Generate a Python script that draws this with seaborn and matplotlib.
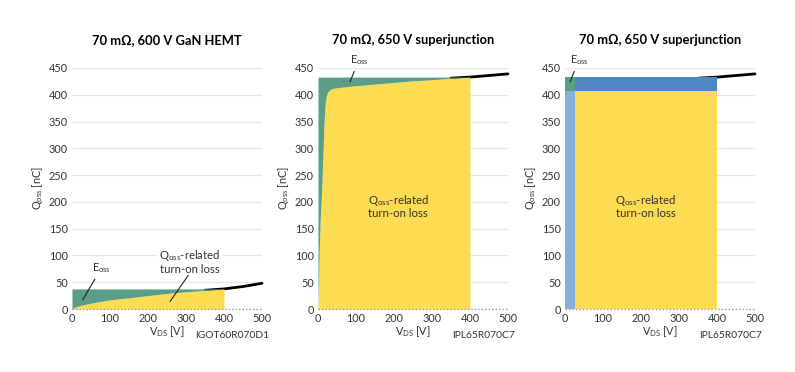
import numpy as np
import pandas as pd
import seaborn as sns
import matplotlib.pyplot as plt

# Qoss curves
v_gan = [0, 10, 25, 50, 100, 150, 200, 250, 300, 350, 400, 450, 500]
q_gan = [0, 4, 7, 11, 17, 21, 25, 29, 32, 35, 37.5, 42, 48]

v_sj = [0, 3, 6, 10, 13, 16, 19, 22, 26, 32, 40, 60, 100, 150, 200, 250, 300, 350, 400, 450, 500]
q_sj = [0, 105, 170, 228, 290, 350, 385, 398, 406, 410, 412, 414, 417, 420, 423, 426, 428, 431, 433, 436, 439]

# simplified model for the third panel
v_knee = 26
q_knee = 407
v_bus = 400

titles = ["70 m\u03a9, 600 V GaN HEMT", "70 m\u03a9, 650 V superjunction", "70 m\u03a9, 650 V superjunction"]
parts = ["IGOT60R070D1", "IPL65R070C7", "IPL65R070C7"]
y_ticks = [0, 50, 100, 150, 200, 250, 300, 350, 400, 450]
x_ticks = [0, 100, 200, 300, 400, 500]

GREEN = "#5b9e87"
YELLOW = "#fddc52"
BLUE_D = "#4f88c1"
BLUE_L = "#88afd7"
TXT = "#333333"

sns.set_theme(style="white")
plt.rcParams["font.family"] = ["Lato", "DejaVu Sans"]
plt.rcParams["mathtext.fontset"] = "custom"
plt.rcParams["mathtext.rm"] = "Lato"

fig = plt.figure(figsize=(7.95, 3.72), dpi=100)
lefts = [72, 318, 565]
axes = [fig.add_axes([l / 795, 1 - 309 / 372, 190 / 795, 241 / 372]) for l in lefts]

gan = pd.DataFrame({"V": v_gan, "Q": q_gan})
sj = pd.DataFrame({"V": v_sj, "Q": q_sj})


def base(ax, i):
    for s in ax.spines.values():
        s.set_visible(False)
    ax.set_xlim(0, 500)
    ax.set_ylim(0, 450)
    ax.set_xticks(x_ticks)
    ax.set_yticks(y_ticks)
    ax.tick_params(length=0, labelsize=7.8, colors=TXT, pad=3)
    ax.grid(axis="y", color="#e6e6e6", lw=0.9, zorder=0)
    ax.axhline(0, color="#999999", lw=1, ls=(0, (1, 1.5)), zorder=5, clip_on=False)
    ax.set_title(titles[i], fontsize=9.3, fontweight="bold", color="black", pad=17)
    ax.set_xlabel(r"V$_\mathregular{DS}$ [V]", fontsize=7.8, color=TXT, va="center")
    ax.set_ylabel(r"Q$_\mathregular{oss}$ [nC]", fontsize=7.8, color=TXT, va="center")
    ax.xaxis.set_label_coords(0.5, -0.095)
    ax.yaxis.set_label_coords(-0.18, 0.5)
    ax.text(1.037, -0.108, parts[i], transform=ax.transAxes, ha="right", va="center",
            fontsize=7.4, color=TXT)


def note(ax, label, xy, xytext, fs=7.8):
    ax.annotate(label, xy=xy, xytext=xytext, ha="center", va="bottom", fontsize=fs,
                color=TXT, annotation_clip=False,
                arrowprops=dict(arrowstyle="-", color="#222222", lw=0.8, shrinkA=1, shrinkB=0))


loss_txt = "Q$_\\mathregular{oss}$-related\nturn-on loss"

# panel 1: GaN
ax = axes[0]
base(ax, 0)
sns.lineplot(data=gan[gan.V >= 350], x="V", y="Q", ax=ax, color="black", lw=2, zorder=2, clip_on=False)
g = gan[gan.V <= v_bus]
q_end = g.Q.iloc[-1]
ax.fill_between(g.V, 0, g.Q, color=YELLOW, lw=0, zorder=3)
ax.fill_between(g.V, g.Q, q_end, color=GREEN, lw=0, zorder=3)
note(ax, r"E$_\mathregular{oss}$", (28, 17), (78, 64))
ax.text(310, 89, loss_txt, ha="center", va="center", fontsize=8.2, color=TXT, zorder=6,
        linespacing=1.05, bbox=dict(fc="white", ec="none", pad=1.5))
ax.plot([306, 258], [63, 14], color="#222222", lw=0.8, zorder=6)

# panel 2: superjunction
ax = axes[1]
base(ax, 1)
sns.lineplot(data=sj[sj.V >= 350], x="V", y="Q", ax=ax, color="black", lw=2, zorder=2, clip_on=False)
s = sj[sj.V <= v_bus]
q_end = s.Q.iloc[-1]
ax.fill_between(s.V, 0, s.Q, color=YELLOW, lw=0, zorder=3)
ax.fill_between(s.V, s.Q, q_end, color=GREEN, lw=0, zorder=3)
note(ax, r"E$_\mathregular{oss}$", (84, 424), (108, 452))
ax.text(211, 192, loss_txt, ha="center", va="center", fontsize=8.2, color=TXT, zorder=6,
        linespacing=1.05)

# panel 3: simplified superjunction
ax = axes[2]
base(ax, 2)
sns.lineplot(data=sj[sj.V >= 350], x="V", y="Q", ax=ax, color="black", lw=2, zorder=2, clip_on=False)
q_end = sj[sj.V <= v_bus].Q.iloc[-1]
ax.fill_between([0, v_knee], 0, q_knee, color=BLUE_L, lw=0, zorder=3)
ax.fill_between([0, v_knee], q_knee, q_end, color=GREEN, lw=0, zorder=3)
ax.fill_between([v_knee, v_bus], q_knee, q_end, color=BLUE_D, lw=0, zorder=3)
ax.fill_between([v_knee, v_bus], 0, q_knee, color=YELLOW, lw=0, zorder=3)
note(ax, r"E$_\mathregular{oss}$", (13, 424), (37, 452))
ax.text(213, 192, loss_txt, ha="center", va="center", fontsize=8.2, color=TXT, zorder=6,
        linespacing=1.05)

fig.savefig("out.png", dpi=100)
